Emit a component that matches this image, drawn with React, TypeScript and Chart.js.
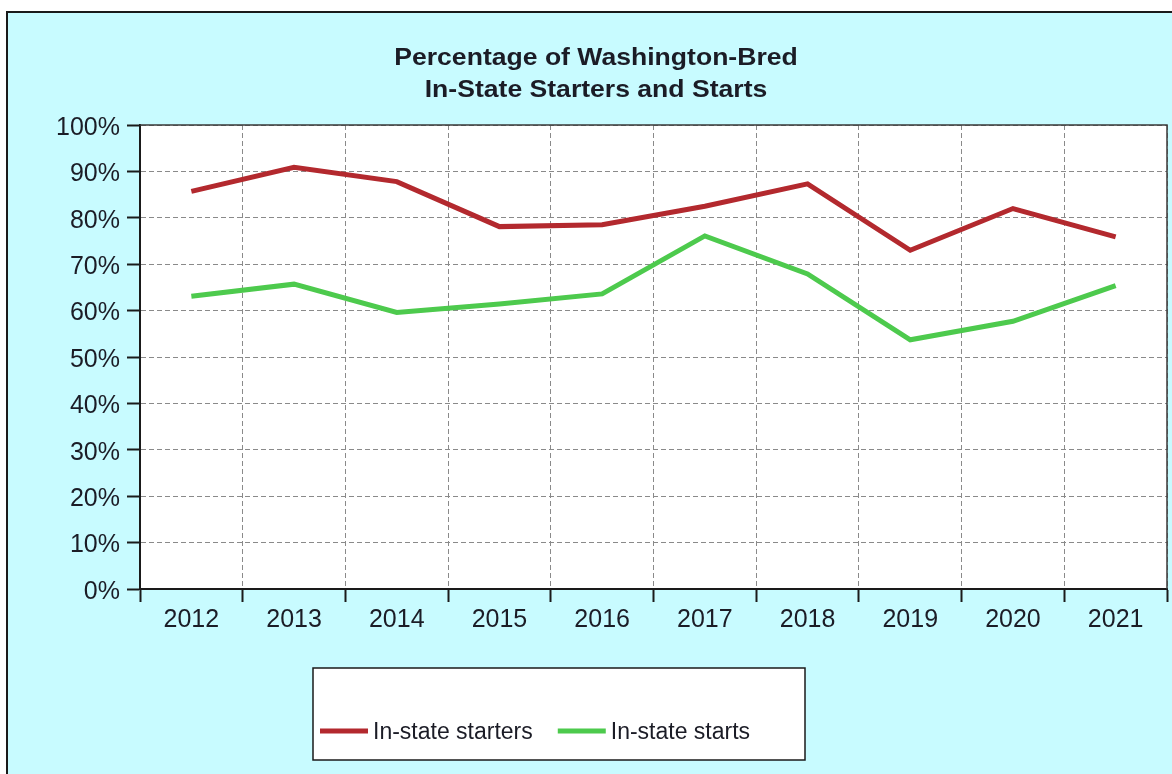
import React, { useEffect, useRef } from 'react';
import { Chart, registerables } from 'chart.js';

Chart.register(...registerables);

const years = ['2012', '2013', '2014', '2015', '2016', '2017', '2018', '2019', '2020', '2021'];
const starters = [85.7, 90.9, 87.8, 78.1, 78.5, 82.5, 87.3, 73.0, 82.0, 75.9];
const starts = [63.1, 65.7, 59.6, 61.4, 63.6, 76.1, 67.9, 53.7, 57.7, 65.4];
const seriesLabels = ['In-state starters', 'In-state starts'];
const seriesColors = ['#B3292E', '#4DCA4D'];
const titleLines = ['Percentage of Washington-Bred', 'In-State Starters and Starts'];
const yMin = 0;
const yMax = 100;
const yStep = 10;

const W = 1172;
const H = 774;
const FONT = '"Liberation Sans", Arial, Helvetica, sans-serif';
const TEXT = '#1b1c26';
const CYAN = '#C8FBFF';

const backgroundPlugin = {
  id: 'frameBg',
  beforeDraw(chart: any) {
    const { ctx, chartArea } = chart;
    ctx.save();
    ctx.fillStyle = '#ffffff';
    ctx.fillRect(0, 0, W, H);
    ctx.fillStyle = CYAN;
    ctx.fillRect(7, 12, W, H);
    ctx.strokeStyle = '#1a1a1a';
    ctx.lineWidth = 2;
    ctx.strokeRect(7, 12, W + 10, H + 10);
    ctx.fillStyle = '#ffffff';
    ctx.fillRect(chartArea.left, chartArea.top, chartArea.right - chartArea.left, chartArea.bottom - chartArea.top);
    ctx.restore();
  },
  beforeDatasetsDraw(chart: any) {
    const { ctx, chartArea } = chart;
    ctx.save();
    ctx.strokeStyle = '#3a3a3a';
    ctx.lineWidth = 1.5;
    ctx.beginPath();
    ctx.moveTo(chartArea.left, chartArea.top);
    ctx.lineTo(chartArea.right, chartArea.top);
    ctx.lineTo(chartArea.right, chartArea.bottom);
    ctx.stroke();
    ctx.restore();
  },
};

const stretchedTitlePlugin = {
  id: 'stretchedTitle',
  afterDraw(chart: any) {
    const { ctx } = chart;
    const cx = 596;
    const sx = 1.107;
    ctx.save();
    ctx.font = `bold 24px ${FONT}`;
    ctx.fillStyle = TEXT;
    ctx.textAlign = 'center';
    ctx.textBaseline = 'middle';
    ctx.translate(cx, 0);
    ctx.scale(sx, 1);
    titleLines.forEach((line, i) => {
      ctx.fillText(line, 0, 58 + i * 32);
    });
    ctx.restore();
  },
};

const boxLegendPlugin = {
  id: 'boxLegend',
  afterDraw(chart: any) {
    const { ctx } = chart;
    const bx = 313, by = 668, bw = 492, bh = 92;
    ctx.save();
    ctx.fillStyle = '#ffffff';
    ctx.fillRect(bx, by, bw, bh);
    ctx.strokeStyle = '#1a1a1a';
    ctx.lineWidth = 1.5;
    ctx.strokeRect(bx, by, bw, bh);
    ctx.font = `23px ${FONT}`;
    ctx.textBaseline = 'middle';
    ctx.textAlign = 'left';
    let x = bx + 7;
    const y = 731;
    chart.data.datasets.forEach((ds: any) => {
      ctx.strokeStyle = ds.borderColor;
      ctx.lineWidth = 5;
      ctx.beginPath();
      ctx.moveTo(x, y);
      ctx.lineTo(x + 48, y);
      ctx.stroke();
      x += 53;
      ctx.fillStyle = TEXT;
      ctx.fillText(ds.label, x, y + 2);
      x += ctx.measureText(ds.label).width + 25;
    });
    ctx.restore();
  },
};

export default function App() {
  const ref = useRef<HTMLCanvasElement | null>(null);

  useEffect(() => {
    if (!ref.current) return;
    const chart = new Chart(ref.current, {
      type: 'line',
      data: {
        labels: years,
        datasets: [
          {
            label: seriesLabels[0],
            data: starters,
            borderColor: seriesColors[0],
            backgroundColor: seriesColors[0],
            borderWidth: 5,
            pointRadius: 0,
            tension: 0,
            fill: false,
          },
          {
            label: seriesLabels[1],
            data: starts,
            borderColor: seriesColors[1],
            backgroundColor: seriesColors[1],
            borderWidth: 5,
            pointRadius: 0,
            tension: 0,
            fill: false,
          },
        ],
      },
      options: {
        responsive: false,
        animation: false,
        events: [],
        layout: { padding: { left: 0, right: 5, top: 125, bottom: 0 } },
        plugins: {
          legend: { display: false },
          tooltip: { enabled: false },
          title: { display: false },
        },
        scales: {
          x: {
            type: 'category',
            offset: true,
            grid: {
              offset: true,
              color: '#8a8a8a',
              lineWidth: 1,
              drawTicks: true,
              tickLength: 13,
              tickColor: '#1a1a1a',
              tickWidth: 2,
              tickBorderDash: [],
            },
            border: { display: true, color: '#1a1a1a', width: 2, dash: [5, 3] },
            ticks: {
              color: TEXT,
              font: { family: FONT, size: 25 },
              padding: 3,
              maxRotation: 0,
              autoSkip: false,
            },
            afterFit(scale: any) {
              scale.height = H - 589;
            },
          },
          y: {
            min: yMin,
            max: yMax,
            grid: {
              color: '#8a8a8a',
              lineWidth: 1,
              drawTicks: true,
              tickLength: 13,
              tickColor: '#1a1a1a',
              tickWidth: 2,
              tickBorderDash: [],
            },
            border: { display: true, color: '#1a1a1a', width: 2, dash: [5, 3] },
            ticks: {
              stepSize: yStep,
              color: TEXT,
              font: { family: FONT, size: 25 },
              padding: 7,
              labelOffset: 3,
              callback: (v: any) => `${v}%`,
            },
            afterFit(scale: any) {
              scale.width = 140;
            },
          },
        },
      },
      plugins: [backgroundPlugin, stretchedTitlePlugin, boxLegendPlugin],
    });
    return () => chart.destroy();
  }, []);

  return (
    <div style={{ position: 'fixed', left: 0, top: 0, width: W, height: H, background: '#fff' }}>
      <canvas ref={ref} width={W} height={H} style={{ display: 'block', width: W, height: H }} />
    </div>
  );
}
